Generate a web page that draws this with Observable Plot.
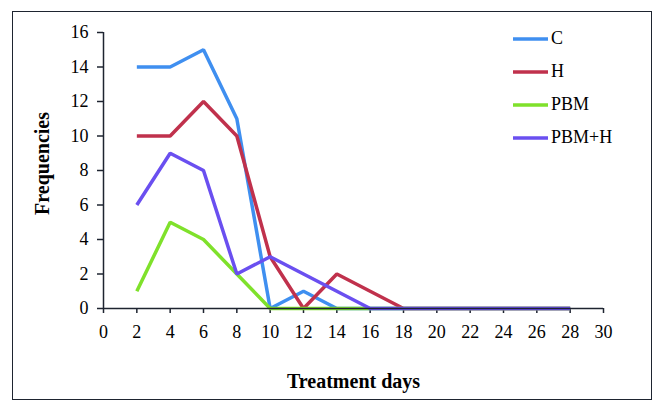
<!DOCTYPE html>
<html>
<head>
<meta charset="utf-8">
<script src="https://cdn.jsdelivr.net/npm/d3@7"></script>
<script src="https://cdn.jsdelivr.net/npm/@observablehq/plot@0.6"></script>
<style>
  html, body { margin: 0; padding: 0; background: #fff; }
  #wrap { position: relative; width: 666px; height: 412px; overflow: hidden; }
  #frame { position: absolute; left: 12px; top: 11px; width: 638px; height: 387px; border: 1.5px solid #1e2430; }
  #legend { position: absolute; left: 513px; top: 22px; font-family: "Liberation Serif", "Times New Roman", serif; font-size: 18px; color: #000; }
  #legend .item { display: flex; align-items: center; height: 33px; }
  #legend svg { margin-right: 3px; }
  #chart { position: absolute; left: 0; top: 0; }
</style>
</head>
<body>
<div id="wrap">
  <div id="frame"></div>
  <div id="chart"></div>
  <div id="legend"></div>
</div>
<script>
const days = [2, 4, 6, 8, 10, 12, 14, 16, 18, 20, 22, 24, 26, 28];
const seriesNames = ["C", "H", "PBM", "PBM+H"];
const C      = [14, 14, 15, 11, 0, 1, 0, 0, 0, 0, 0, 0, 0, 0];
const H      = [10, 10, 12, 10, 3, 0, 2, 1, 0, 0, 0, 0, 0, 0];
const PBM    = [1, 5, 4, 2, 0, 0, 0, 0, 0, 0, 0, 0, 0, 0];
const PBM_H  = [6, 9, 8, 2, 3, 2, 1, 0, 0, 0, 0, 0, 0, 0];
const seriesValues = [C, H, PBM, PBM_H];
const colors = ["#3f8ff0", "#c0314c", "#7fe12b", "#6a4ff0"];
const xTicks = d3.range(0, 31, 2);
const yTicks = d3.range(0, 17, 2);

const data = [];
seriesNames.forEach((name, i) => {
  days.forEach((d, j) => data.push({series: name, day: d, value: seriesValues[i][j]}));
});

const chart = Plot.plot({
  width: 666,
  height: 412,
  marginLeft: 103,
  marginRight: 63,
  marginTop: 32,
  marginBottom: 104,
  style: {fontFamily: "'Liberation Serif', 'Times New Roman', serif", fontSize: "18px", color: "#000", background: "transparent"},
  x: {domain: [0, 30]},
  y: {domain: [0, 16]},
  color: {domain: seriesNames, range: colors},
  marks: [
    Plot.axisX({ticks: xTicks, tickSize: 5, tickPadding: 12, label: null, stroke: "#1e2430", strokeWidth: 1.5, tickFormat: d => d}),
    Plot.axisY({ticks: yTicks, tickSize: 6, tickPadding: 9, label: null, stroke: "#1e2430", strokeWidth: 1.5, tickFormat: d => d}),
    Plot.text(["Treatment days"], {frameAnchor: "bottom", dy: 79, fontWeight: "bold", fontSize: 20}),
    Plot.text(["Frequencies"], {frameAnchor: "left", textAnchor: "middle", dx: -61, dy: -7, rotate: -90, fontWeight: "bold", fontSize: 20}),
    Plot.line(data, {x: "day", y: "value", z: "series", stroke: "series", strokeWidth: 3.5, strokeLinejoin: "miter", strokeLinecap: "butt"}),
    Plot.ruleY([0], {stroke: "#1e2430", strokeWidth: 1.5}),
    Plot.ruleX([0], {stroke: "#1e2430", strokeWidth: 1.5})
  ]
});
document.getElementById("chart").appendChild(chart);

const legend = document.getElementById("legend");
seriesNames.forEach((name, i) => {
  const item = document.createElement("div");
  item.className = "item";
  item.innerHTML = `<svg width="35" height="6"><line x1="0" y1="3" x2="35" y2="3" stroke="${colors[i]}" stroke-width="3.5"/></svg><span>${name}</span>`;
  legend.appendChild(item);
});
</script>
</body>
</html>
